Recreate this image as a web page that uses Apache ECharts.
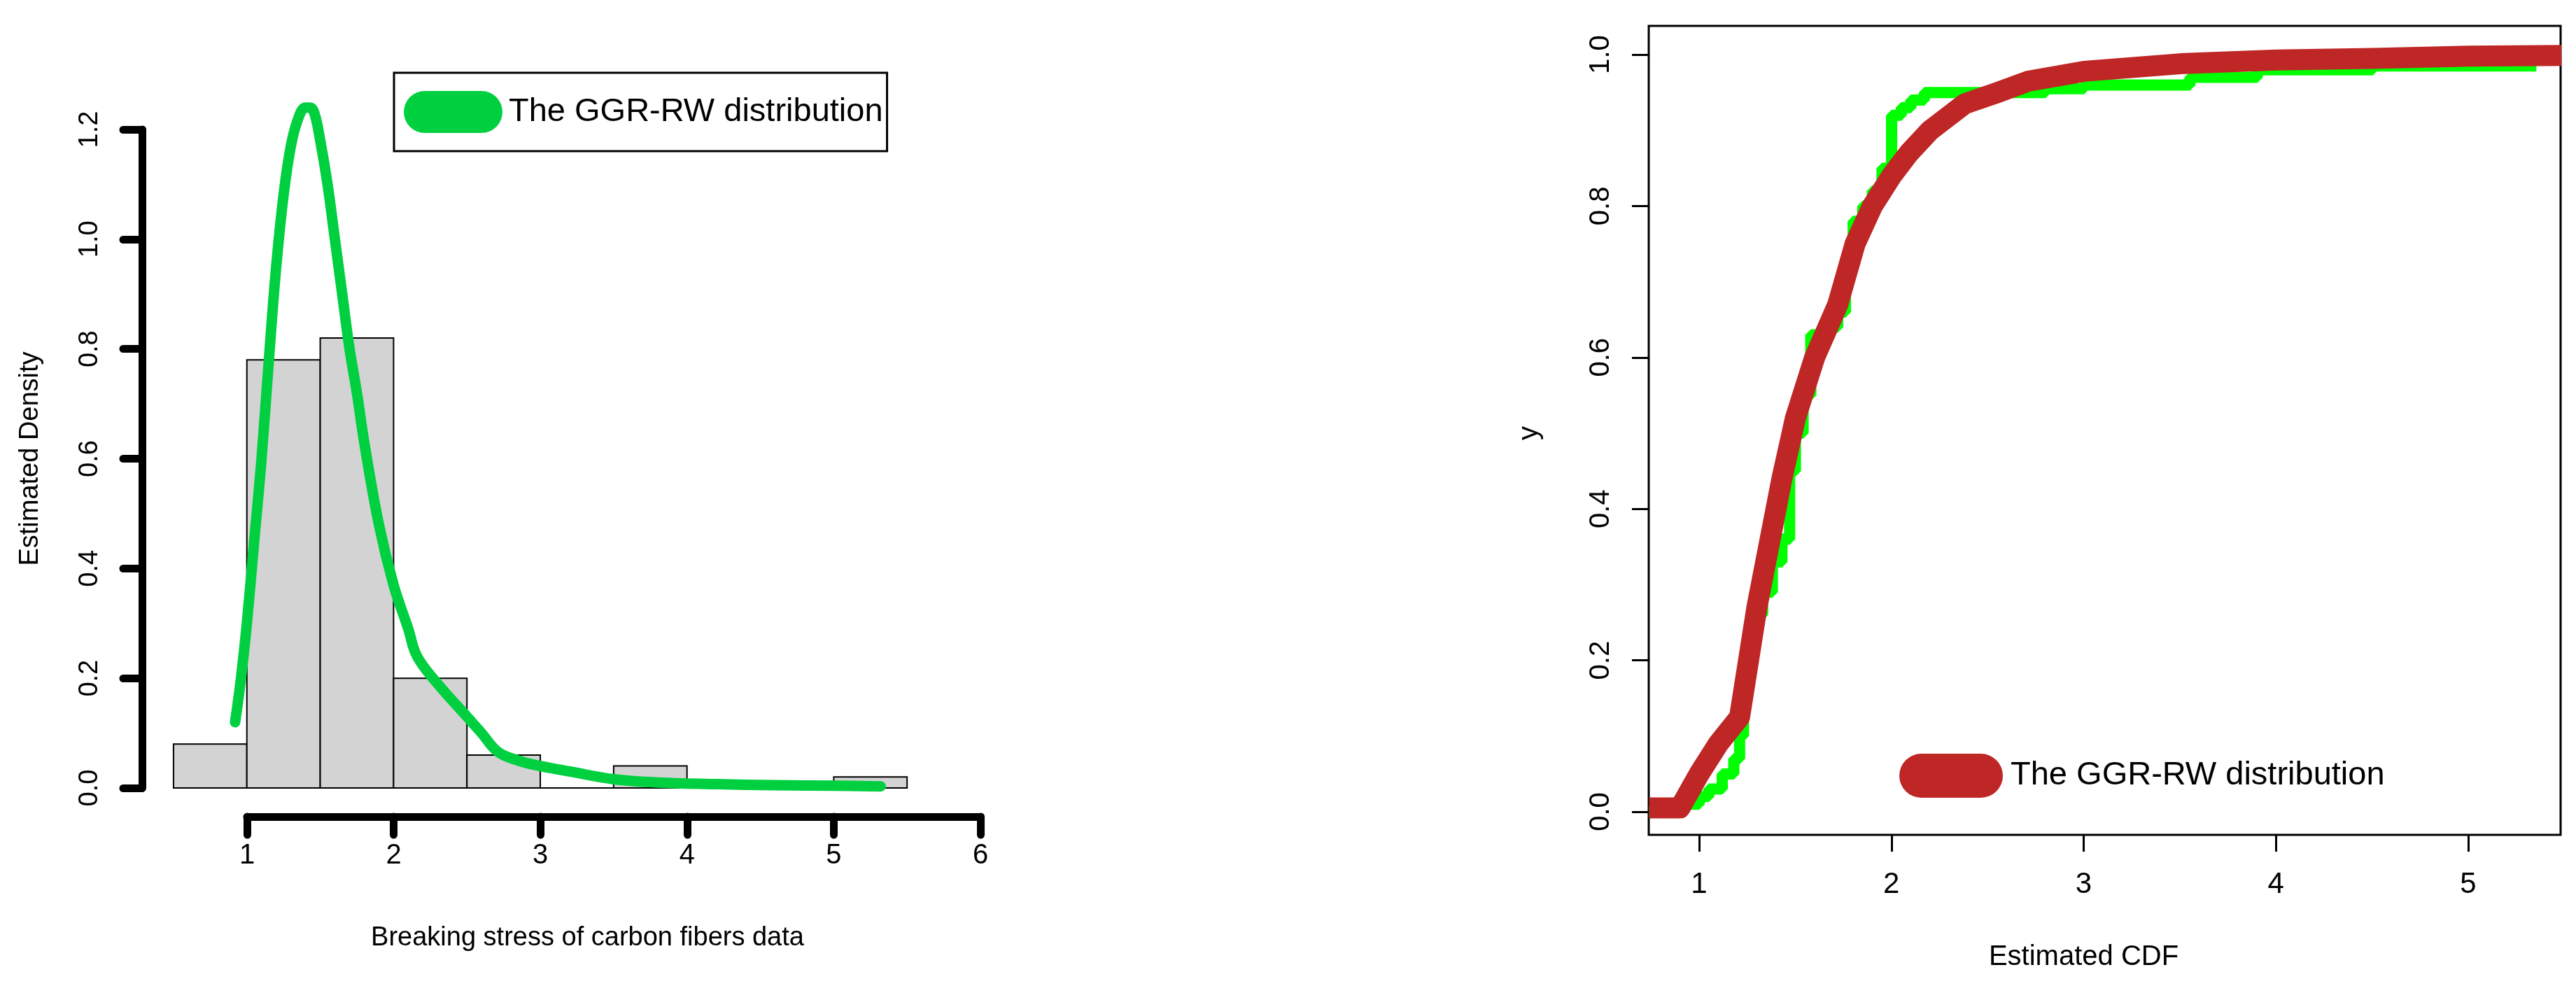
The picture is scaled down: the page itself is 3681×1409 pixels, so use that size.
<!DOCTYPE html>
<html><head><meta charset="utf-8">
<script src="https://cdn.jsdelivr.net/npm/echarts@6/dist/echarts.min.js"></script>
<style>html,body{margin:0;padding:0;background:#fff}#c{width:3681px;height:1409px}</style>
</head><body><div id="c"></div>
<script>
// Histogram bins (left edge, right edge, density)
const binStarts = [0.5, 1.0, 1.5, 2.0, 2.5, 3.0, 3.5, 4.0, 4.5, 5.0];
const binEnds   = [1.0, 1.5, 2.0, 2.5, 3.0, 3.5, 4.0, 4.5, 5.0, 5.5];
const binDensity = [0.08, 0.78, 0.82, 0.20, 0.06, 0.0, 0.04, 0.0, 0.0, 0.02];
// Fitted density curve
const densX = [0.92,0.96,1.0,1.05,1.1,1.15,1.2,1.25,1.3,1.35,1.4,1.43,1.46,1.5,1.55,1.6,1.65,1.7,1.75,1.8,1.9,2.0,2.1,2.16,2.3,2.5,2.6,2.71,2.85,3.0,3.2,3.5,3.8,4.2,4.6,5.0,5.32];
const densY = [0.12,0.2,0.3,0.45,0.6,0.78,0.95,1.08,1.17,1.22,1.24,1.24,1.23,1.18,1.1,1.0,0.9,0.8,0.72,0.63,0.48,0.37,0.29,0.24,0.19,0.13,0.1,0.066,0.05,0.04,0.03,0.016,0.01,0.007,0.005,0.004,0.003];
// Empirical CDF (steps)
const ecdfX = [0.74,0.92,1.0,1.05,1.12,1.18,1.21,1.23,1.25,1.28,1.33,1.38,1.43,1.47,1.5,1.54,1.58,1.65,1.72,1.76,1.8,1.85,1.9,1.95,2.0,2.05,2.1,2.17,2.8,3.0,3.55,3.9,4.5,5.35];
const ecdfY = [0.0,0.01,0.02,0.03,0.05,0.07,0.1,0.15,0.2,0.26,0.29,0.33,0.36,0.45,0.5,0.55,0.63,0.64,0.66,0.72,0.78,0.8,0.82,0.85,0.92,0.93,0.94,0.95,0.955,0.96,0.97,0.98,0.985,0.985];
// Fitted CDF
const cdfX = [0.74,0.9,1.0,1.1,1.21,1.3,1.43,1.5,1.6,1.72,1.81,1.9,2.0,2.09,2.2,2.38,2.55,2.71,3.0,3.5,4.0,4.5,5.0,5.48];
const cdfY = [0.005,0.005,0.05,0.09,0.125,0.27,0.44,0.52,0.6,0.67,0.75,0.8,0.84,0.87,0.9,0.935,0.95,0.965,0.978,0.988,0.993,0.995,0.998,0.999];
const leftXTicks = [1,2,3,4,5,6];
const rightXTicks = [1,2,3,4,5];
const legendName = 'The GGR-RW distribution';

const FONT = 'Liberation Sans';
const green = '#00d040', lime = '#00ff00', red = '#bf2626';
const zip = (a,b)=>a.map((v,i)=>[v,b[i]]);
const capsule = 'path://M30,0 H111 A30,30 0 0 1 111,60 H30 A30,30 0 0 1 30,0 Z';

const chart = echarts.init(document.getElementById('c'));
chart.setOption({
  animation:false,
  grid:[
    {left:203, top:185, width:1198, height:982},
    {left:353, top:1166, width:1048, height:1},
    {left:203, top:185, width:1, height:941},
    {left:2356, top:37, width:1303, height:1156, show:true, borderColor:'#000', borderWidth:3, backgroundColor:'transparent'},
    {left:2428, top:1192, width:1099, height:1},
    {left:2356, top:78, width:1, height:1082}
  ],
  xAxis:[
    {gridIndex:0, type:'value', min:0.2857, max:6, show:false},
    {gridIndex:1, type:'value', min:1, max:6, interval:1, position:'bottom',
      axisLine:{lineStyle:{color:'#000', width:11, cap:'round'}},
      axisTick:{length:26, lineStyle:{color:'#000', width:11, cap:'round'}},
      axisLabel:{fontFamily:FONT, fontSize:40, color:'#000', margin:36},
      splitLine:{show:false},
      name:'Breaking stress of carbon fibers data', nameLocation:'middle', nameGap:155,
      nameTextStyle:{fontFamily:FONT, fontSize:38, color:'#000', padding:[0,75,0,0]}},
    {gridIndex:2, type:'value', min:0, max:1, show:false},
    {gridIndex:3, type:'value', min:0.738, max:5.476, show:false},
    {gridIndex:4, type:'value', min:1, max:5, interval:1, position:'bottom',
      axisLine:{show:false},
      axisTick:{length:24, lineStyle:{color:'#000', width:3}},
      axisLabel:{fontFamily:FONT, fontSize:42, color:'#000', margin:50},
      splitLine:{show:false},
      name:'Estimated CDF', nameLocation:'middle', nameGap:155,
      nameTextStyle:{fontFamily:FONT, fontSize:40, color:'#000'}},
    {gridIndex:5, type:'value', min:0, max:1, show:false}
  ],
  yAxis:[
    {gridIndex:0, type:'value', min:-0.0523, max:1.2, show:false},
    {gridIndex:1, type:'value', min:0, max:1, show:false},
    {gridIndex:2, type:'value', min:0, max:1.2, interval:0.2, position:'left',
      axisLine:{lineStyle:{color:'#000', width:11, cap:'round'}},
      axisTick:{length:27, lineStyle:{color:'#000', width:11, cap:'round'}},
      axisLabel:{fontFamily:FONT, fontSize:38, color:'#000', rotate:90, margin:55, formatter:v=>v.toFixed(1)},
      splitLine:{show:false},
      name:'Estimated Density', nameLocation:'middle', nameGap:140,
      nameTextStyle:{fontFamily:FONT, fontSize:38, color:'#000'}},
    {gridIndex:3, type:'value', min:-0.0305, max:1.038, show:false},
    {gridIndex:4, type:'value', min:0, max:1, show:false},
    {gridIndex:5, type:'value', min:0, max:1, interval:0.2, position:'left',
      axisLine:{show:false},
      axisTick:{length:24, lineStyle:{color:'#000', width:3}},
      axisLabel:{fontFamily:FONT, fontSize:40, color:'#000', rotate:90, margin:48, formatter:v=>v.toFixed(1)},
      splitLine:{show:false},
      name:'y', nameLocation:'middle', nameGap:150,
      nameTextStyle:{fontFamily:FONT, fontSize:40, color:'#000'}}
  ],
  legend:[
    {left:563, top:104, orient:'horizontal', padding:[26,6,26,14], borderColor:'#000', borderWidth:3,
      itemWidth:141, itemHeight:60, itemGap:0, icon:capsule,
      textStyle:{fontFamily:FONT, fontSize:47, color:'#000', padding:[0,0,0,4]},
      data:[{name:legendName, itemStyle:{color:green}}], selectedMode:false},
    {left:2714, top:1077, orient:'horizontal', padding:0,
      itemWidth:152, itemHeight:63, icon:capsule,
      textStyle:{fontFamily:FONT, fontSize:47, color:'#000', padding:[0,0,0,4]},
      data:[{name:legendName, itemStyle:{color:red}}], selectedMode:false}
  ],
  series:[
    {type:'custom', xAxisIndex:0, yAxisIndex:0, silent:true,
      data: binStarts.map((s,i)=>[s, binEnds[i], binDensity[i]]),
      renderItem:(params, api)=>{
        const p0 = api.coord([api.value(0), 0]);
        const p1 = api.coord([api.value(1), api.value(2)]);
        return {type:'rect', shape:{x:p0[0], y:p1[1], width:p1[0]-p0[0], height:p0[1]-p1[1]},
          style:{fill:'#d3d3d3', stroke:'#000', lineWidth:2}};
      }},
    {type:'line', name:legendName, xAxisIndex:0, yAxisIndex:0, data:zip(densX,densY), smooth:0.4, clip:false,
      showSymbol:false, lineStyle:{color:green, width:15, cap:'round', join:'round'}, itemStyle:{color:green}},
    {type:'line', name:'ecdf', xAxisIndex:3, yAxisIndex:3, data:zip(ecdfX,ecdfY), step:'end',
      showSymbol:false, lineStyle:{color:lime, width:16}, itemStyle:{color:lime}},
    {type:'line', name:legendName, xAxisIndex:3, yAxisIndex:3, data:zip(cdfX,cdfY),
      showSymbol:false, lineStyle:{color:red, width:30, join:'round'}, itemStyle:{color:red}, clip:true}
  ]
});
</script></body></html>
